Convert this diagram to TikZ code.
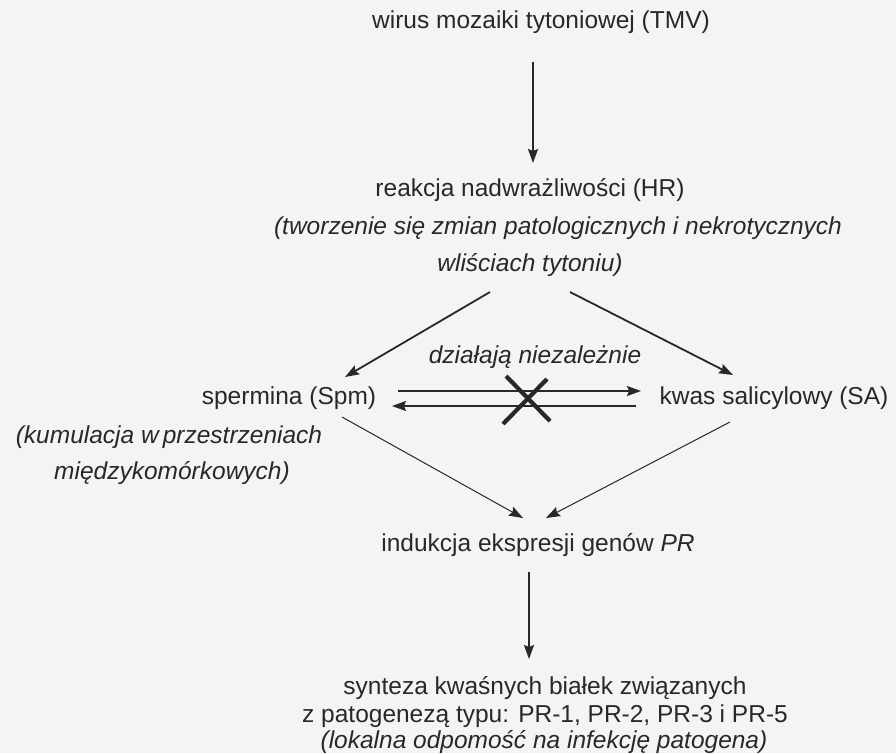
\documentclass[tikz,border=0pt]{standalone}
\usepackage{fontspec}
\setmainfont{Liberation Sans}
\usetikzlibrary{arrows.meta}
\definecolor{paper}{RGB}{244,244,243}
\definecolor{ink}{RGB}{40,40,40}
\begin{document}
\begin{tikzpicture}[x=1pt,y=-1pt,
  lbl/.style={text=ink,inner sep=0pt,font=\fontsize{24.5}{29}\selectfont,align=center},
  ilbl/.style={lbl,font=\fontsize{24.5}{29}\selectfont\itshape},
  bigarrow/.style={draw=ink,line width=1.8pt,-{Stealth[length=14pt,width=10pt,inset=2pt]}},
  thinarrow/.style={draw=ink,line width=1pt,-{Stealth[length=14pt,width=10pt,inset=2pt]}},
  pairarrow/.style={draw=ink,line width=1.4pt,-{Stealth[length=14pt,width=10pt,inset=2pt]}},
  cross/.style={draw=ink,line width=4.2pt}]
\fill[paper] (0,0) rectangle (896,753);
\useasboundingbox (0,0) rectangle (896,753);

% labels
\node[lbl] (tmv) at (541,22) {wirus mozaiki tytoniowej (TMV)};
\node[lbl] (hr) at (530,190) {reakcja nadwrażliwości (HR)};
\node[ilbl] (hr1) at (558,228) {(tworzenie się zmian patologicznych i nekrotycznych};
\node[ilbl] (hr2) at (530,265) {wliściach tytoniu)};
\node[ilbl] (indep) at (535,357) {działają niezależnie};
\node[lbl] (spm) at (289,398) {spermina (Spm)};
\node[lbl] (sa) at (774,398) {kwas salicylowy (SA)};
\node[ilbl] (kum1) at (169,437) {(kumulacja w\,przestrzeniach};
\node[ilbl] (kum2) at (172,473) {międzykomórkowych)};
\node[lbl] (pr) at (538,545) {indukcja ekspresji genów \textit{PR}};
\node[lbl,anchor=base] (syn1) at (545,694) {synteza kwaśnych białek związanych};
\node[lbl,anchor=base] (syn2) at (545,722) {z patogenezą typu: PR-1, PR-2, PR-3 i PR-5};
\node[ilbl,anchor=base] (syn3) at (544,748) {(lokalna odpomość na infekcję patogena)};

% arrow end points
\coordinate (a1s) at (533,62);  \coordinate (a1e) at (533,163);
\coordinate (hrl) at (490,292); \coordinate (spmt) at (345,377);
\coordinate (hrr) at (570,292); \coordinate (sat) at (733,375);
\coordinate (pts) at (398,391); \coordinate (pte) at (641,391);
\coordinate (pbs) at (636,406); \coordinate (pbe) at (392,406);
\coordinate (spmb) at (342,417); \coordinate (prl) at (523,518);
\coordinate (sab) at (730,422); \coordinate (prr) at (546,518);
\coordinate (a3s) at (529,572); \coordinate (a3e) at (529,659);

\draw[bigarrow] (a1s) -- (a1e);
\draw[bigarrow] (hrl) -- (spmt);
\draw[bigarrow] (hrr) -- (sat);
\draw[pairarrow] (pts) -- (pte);
\draw[pairarrow] (pbs) -- (pbe);
\draw[thinarrow] (spmb) -- (prl);
\draw[thinarrow] (sab) -- (prr);
\draw[bigarrow] (a3s) -- (a3e);

% crossed-out link between the two pathways
\draw[cross] (506,376) -- (550,421);
\draw[cross] (547,379) -- (503,424);
\end{tikzpicture}
\end{document}
